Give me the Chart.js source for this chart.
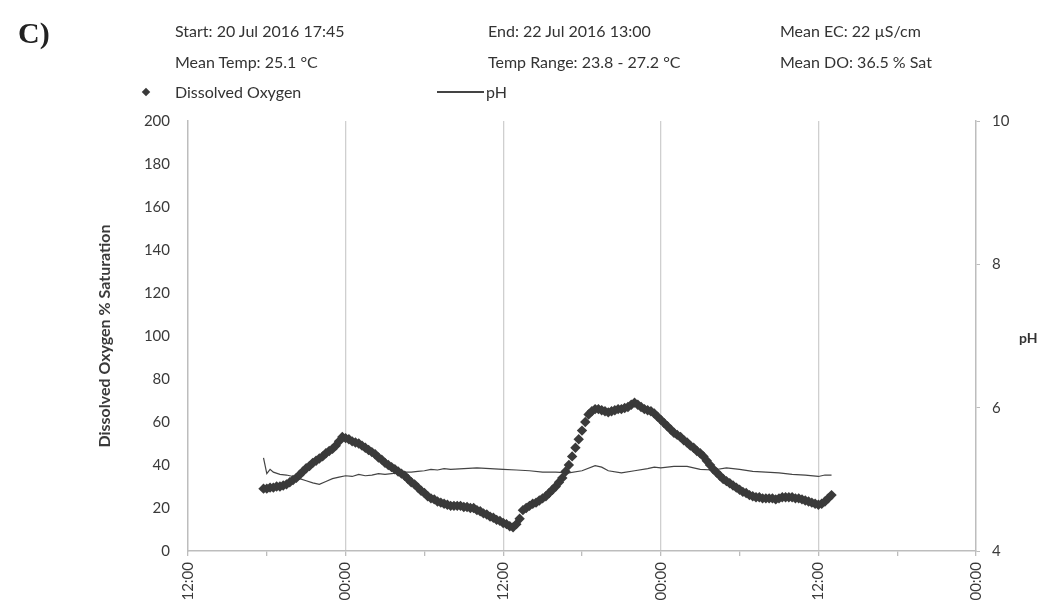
<!DOCTYPE html>
<html>
<head>
<meta charset="utf-8">
<script src="https://cdn.jsdelivr.net/npm/chart.js@4.4.1/dist/chart.umd.min.js"></script>
<style>
  body { margin: 0; background: #fff; font-family: Lato, "Open Sans", sans-serif; color: #333; }
  #wrap { position: relative; width: 1044px; height: 608px; overflow: hidden; }
  #chart { position: absolute; left: 0; top: 0; }
  .t { position: absolute; font-size: 16px; line-height: 1; white-space: nowrap; transform: translateY(-50%); }
  .lbl { position: absolute; font-family: "Liberation Serif", serif; font-weight: bold; font-size: 30px; line-height: 1; transform: translateY(-50%); color: #222; }
  .dia { position: absolute; width: 6px; height: 6px; background: #3a3a3a; transform: translate(-50%, -50%) rotate(45deg); }
  .ln { position: absolute; height: 2px; background: #444; transform: translateY(-50%); }
</style>
</head>
<body>
<div id="wrap">
  <canvas id="chart" width="1044" height="608"></canvas>
  <div class="lbl" style="left:18px;top:33px">C)</div>
  <div class="t" style="left:175px;top:31px">Start: 20 Jul 2016 17:45</div>
  <div class="t" style="left:488px;top:31px">End: 22 Jul 2016 13:00</div>
  <div class="t" style="left:780px;top:31px">Mean EC: 22 µS/cm</div>
  <div class="t" style="left:175px;top:62px">Mean Temp: 25.1 °C</div>
  <div class="t" style="left:488px;top:62px">Temp Range: 23.8 - 27.2 °C</div>
  <div class="t" style="left:780px;top:62px">Mean DO: 36.5 % Sat</div>
  <div class="dia" style="left:146px;top:92px"></div>
  <div class="t" style="left:175px;top:92px">Dissolved Oxygen</div>
  <div class="ln" style="left:437px;top:92px;width:47px"></div>
  <div class="t" style="left:486px;top:92px">pH</div>
  <div class="t" style="left:1019px;top:338px;font-weight:bold;font-size:14px">pH</div>
</div>
<script>
// logger readings every 15 min, first at 20 Jul 17:45 (hours since 20 Jul 12:00)
const doStart = 5.75;
const doStep = 0.25;
const doSat = [
  29,
  29, 29.5, 29.5, 30,   30, 30.5, 31, 32,     33, 34, 35.5, 37,     38.5, 39.5, 41, 42,
  43, 44, 45.5, 46.5,   47.5, 49, 51, 53,     52.5, 52, 51, 50.5,   50, 49, 48, 47,
  46, 45, 43.5, 42.5,   41, 40, 39, 38,       37, 36, 35, 33.5,     32, 31, 29.5, 28,
  27, 25.5, 24.5, 24,   23, 22.5, 22, 21.5,   21, 21, 21, 21,       20.5, 20.5, 20, 20,
  19, 18.5, 17.5, 17,   16, 15.5, 14.5, 14,   13, 12.5, 11.5, 11,   12.5, 15, 19, 20,
  21, 22, 22.5, 23.5,   24.5, 25.5, 27, 28.5, 30, 32, 34, 37,       40, 44, 48, 52,
  56, 60, 63.5, 65,     66, 66, 65.5, 65,     64.5, 65, 65.5, 66,   66, 66.5, 67, 68,
  69, 68, 67, 66,       65.5, 65, 64, 62.5,   61, 59.5, 58, 56.5,   55, 54, 53, 51.5,
  50.5, 49, 48, 46.5,   45.5, 44, 42, 40,     38, 36.5, 35, 33.5,   32.5, 31.5, 30.5, 29.5,
  28.5, 27.5, 27, 26,   25.5, 25, 25, 24.5,   24.5, 24.5, 24.5, 24,  24.5, 25, 25, 25,
  25, 24.5, 24.5, 24,   23.5, 23, 22.5, 22,   21.5, 22, 23, 24.5,
  26
];

const phTime = [5.75, 6, 6.25, 6.5, 7, 7.5, 8, 8.5, 9, 9.5, 10, 10.5, 11, 11.5, 12, 12.5, 13, 13.5,
  14, 14.5, 15, 15.5, 16, 16.5, 17, 17.5, 18, 18.5, 19, 19.5, 20, 21, 22, 23, 24, 25, 26, 27, 28,
  29, 30, 31, 31.5, 32, 33, 34, 35, 35.5, 36, 37, 38, 38.5, 39, 40, 41, 42, 43, 44, 45, 46, 47, 48, 48.5, 49];
const phVal = [5.30, 5.08, 5.14, 5.10, 5.07, 5.06, 5.04, 5.01, 4.98, 4.95, 4.93, 4.97, 5.01, 5.03, 5.05, 5.04, 5.07, 5.05,
  5.06, 5.08, 5.07, 5.08, 5.09, 5.10, 5.10, 5.11, 5.12, 5.14, 5.13, 5.15, 5.14, 5.15, 5.16, 5.15, 5.14, 5.13, 5.12, 5.10, 5.10,
  5.09, 5.12, 5.19, 5.17, 5.12, 5.09, 5.12, 5.15, 5.17, 5.16, 5.18, 5.18, 5.16, 5.14, 5.13, 5.16, 5.14, 5.11, 5.10, 5.09, 5.07, 5.06, 5.04, 5.06, 5.06];

const xLabels = ['12:00', '00:00'];
const doTicks = [0, 200, 20];
const phTicks = [4, 10, 2];

const axisGrey = '#bdbdbd';
const txt = '#3a3a3a';
const fontTick = {family: 'Lato', size: 15};

new Chart(document.getElementById('chart'), {
  type: 'line',
  data: {
    datasets: [
      {
        label: 'Dissolved Oxygen',
        data: doSat.map((v, i) => ({x: doStart + i * doStep, y: v})),
        showLine: false,
        pointStyle: 'rectRot',
        pointRadius: 5.2,
        pointBackgroundColor: '#3a3a3a',
        pointBorderWidth: 0,
        yAxisID: 'y'
      },
      {
        label: 'pH',
        data: phTime.map((t, i) => ({x: t, y: phVal[i]})),
        borderColor: '#444',
        borderWidth: 1.2,
        pointRadius: 0,
        tension: 0,
        yAxisID: 'y2'
      }
    ]
  },
  options: {
    responsive: false,
    animation: false,
    layout: {padding: {top: 121, bottom: 0, left: 0, right: 0}},
    plugins: {legend: {display: false}, tooltip: {enabled: false}},
    scales: {
      x: {
        type: 'linear', min: 0, max: 60,
        afterFit: s => { s.height = 57; },
        afterBuildTicks: s => { s.ticks = [0, 6, 12, 18, 24, 30, 36, 42, 48, 54, 60].map(v => ({value: v})); },
        ticks: {
          minRotation: 90, maxRotation: 90, padding: 6, color: txt, font: fontTick, autoSkip: false,
          callback: v => v % 12 === 0 ? xLabels[(v / 12) % 2] : ''
        },
        grid: {
          color: c => (c.tick && c.tick.value % 12 === 0 && c.tick.value > 0 && c.tick.value < 60) ? '#cfcfcf' : 'rgba(0,0,0,0)',
          tickColor: axisGrey, tickLength: 5, lineWidth: 1.3
        },
        border: {color: axisGrey, width: 1.5}
      },
      y: {
        position: 'left', min: doTicks[0], max: doTicks[1],
        afterFit: s => { s.width = 188; },
        ticks: {stepSize: doTicks[2], padding: 18, color: txt, font: fontTick},
        grid: {drawOnChartArea: false, drawTicks: false},
        border: {color: axisGrey, width: 1.5},
        title: {display: true, text: 'Dissolved Oxygen % Saturation', color: txt,
          font: {family: 'Lato', size: 16, weight: 'bold'}, padding: {top: 95, bottom: 0}}
      },
      y2: {
        position: 'right', min: phTicks[0], max: phTicks[1],
        afterFit: s => { s.width = 68; },
        ticks: {stepSize: phTicks[2], padding: 12, color: txt, font: fontTick},
        grid: {drawOnChartArea: false, tickLength: 4, tickColor: axisGrey},
        border: {color: axisGrey, width: 1.5}
      }
    }
  }
});
</script>
</body>
</html>
